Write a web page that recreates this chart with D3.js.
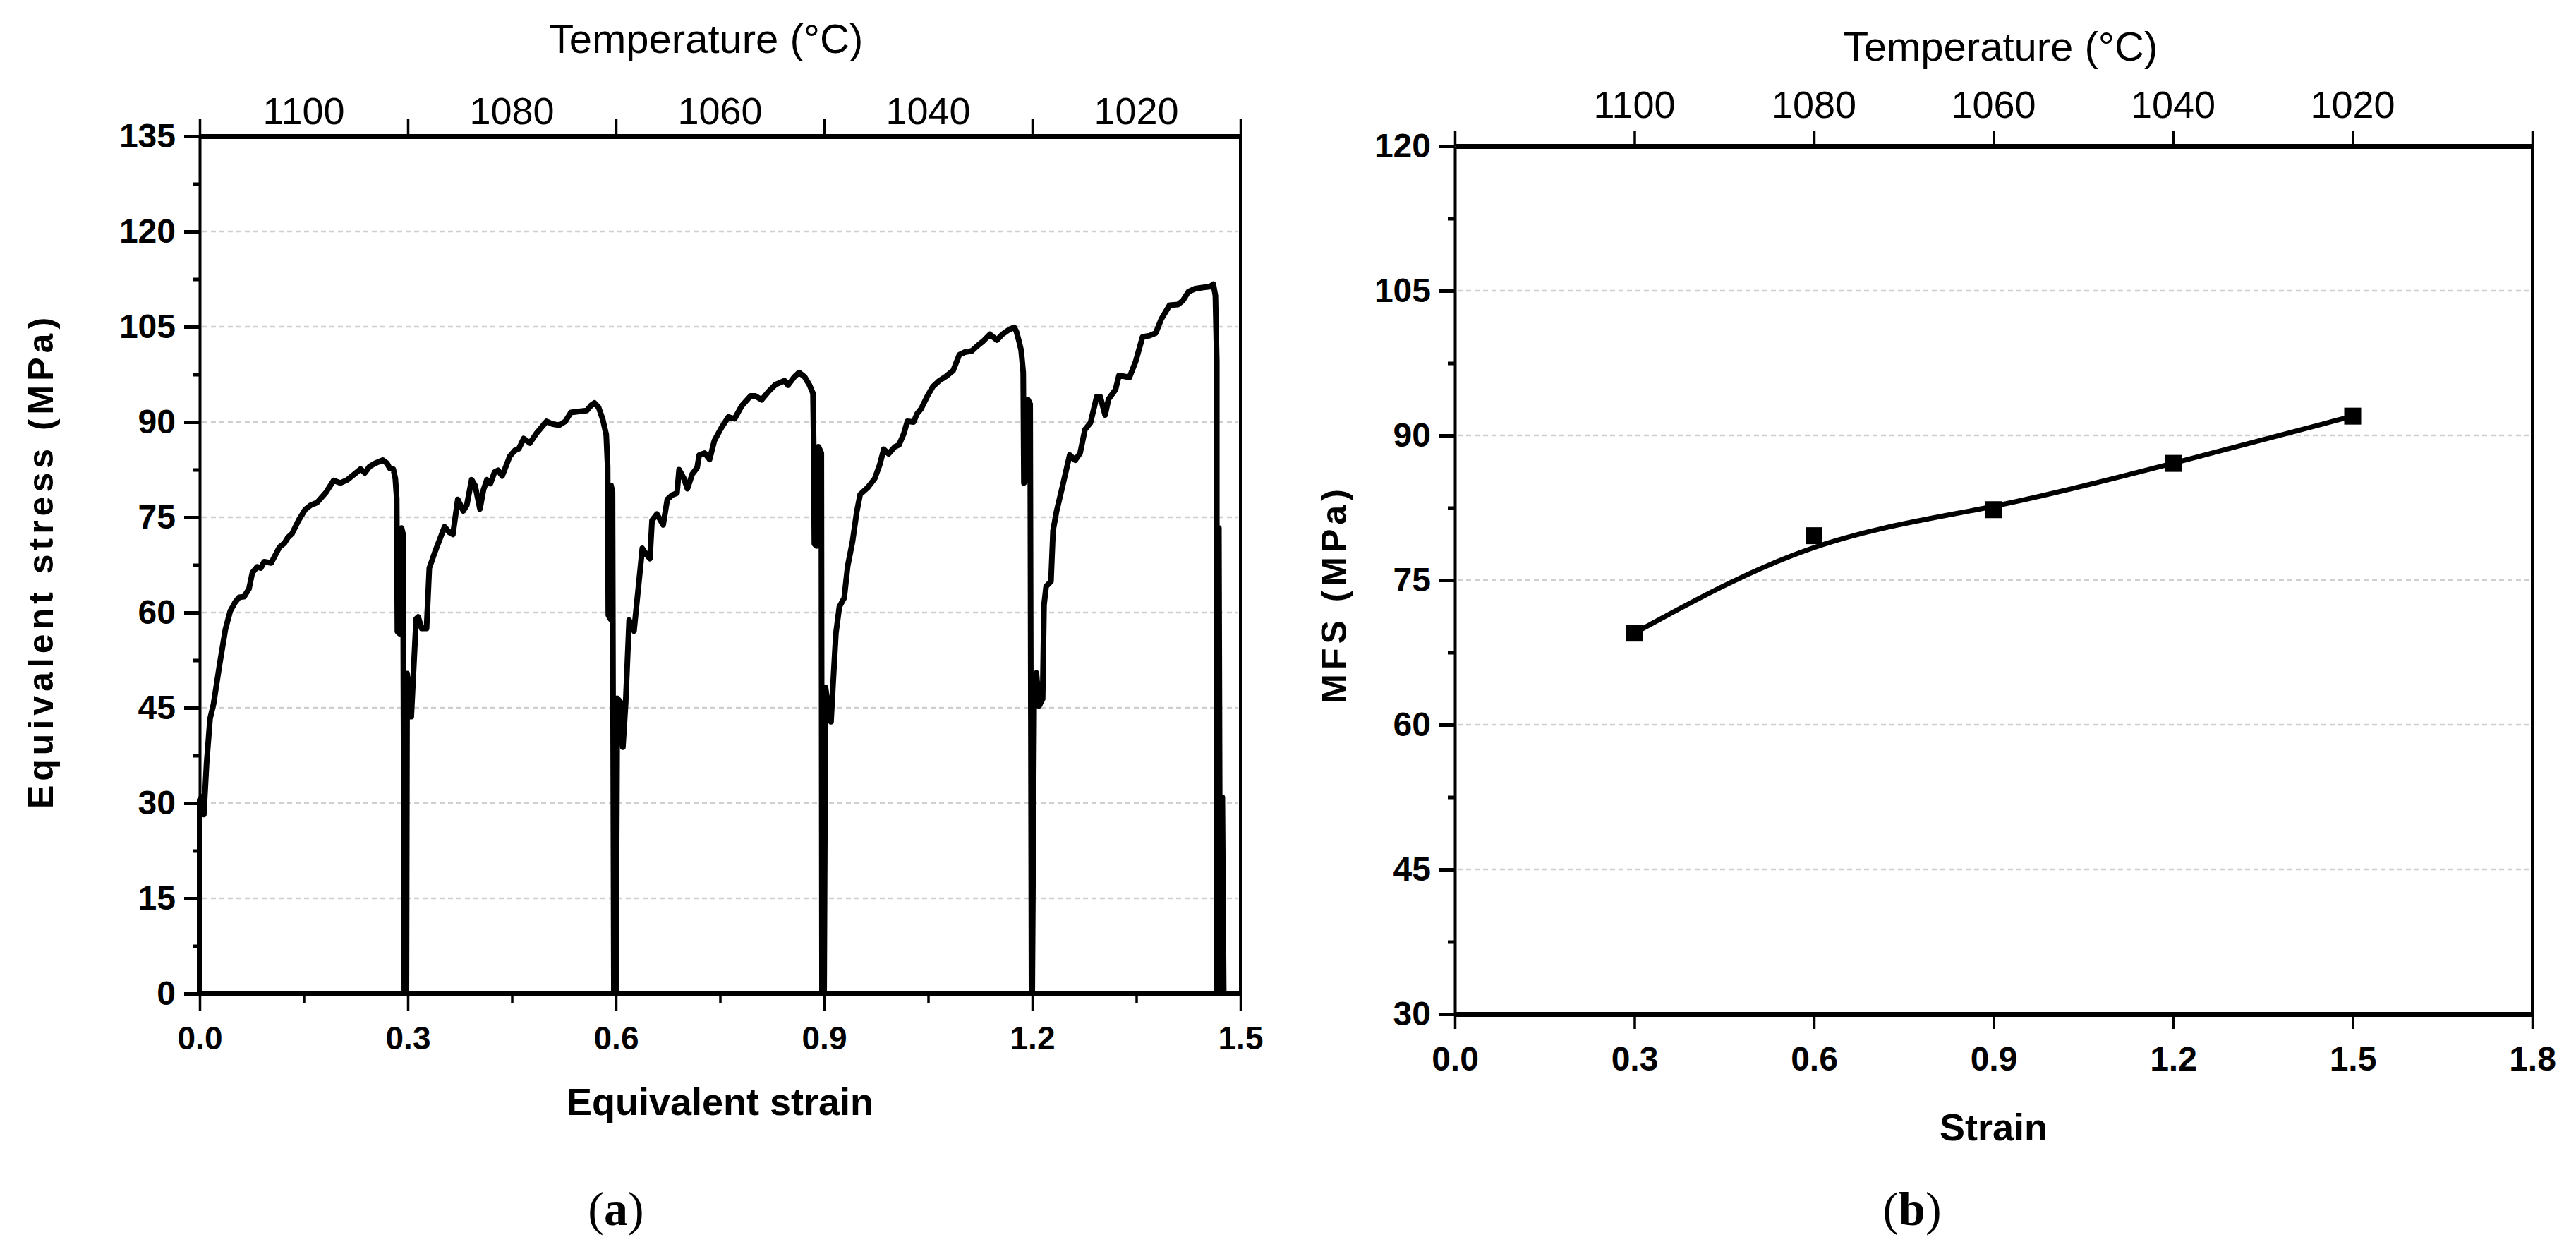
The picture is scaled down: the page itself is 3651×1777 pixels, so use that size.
<!DOCTYPE html>
<html>
<head>
<meta charset="utf-8">
<script src="https://cdn.jsdelivr.net/npm/d3@7"></script>
<style>
  body { margin: 0; background: #fff; }
  text { font-family: "Liberation Sans", Arial, sans-serif; fill: #000; }
</style>
</head>
<body>
<svg id="fig"></svg>
<script>
// ---- data ----
// (a) equivalent stress-strain curve, one array per pass: [strain, stress MPa]
var pass1 = [[0,0],[0,30.5],[0.003,31],[0.006,28.2],[0.010,36.3],[0.015,43.3],[0.020,45.6],[0.029,52],
  [0.037,57.3],[0.044,60.2],[0.051,61.6],[0.057,62.4],[0.064,62.5],[0.071,63.7],[0.076,66.3],[0.083,67.2],
  [0.088,67],[0.093,68],[0.103,67.8],[0.115,70.3],[0.122,70.9],[0.127,71.8],[0.133,72.4],[0.142,74.4],
  [0.152,76.2],[0.160,76.9],[0.169,77.3],[0.182,78.9],[0.193,80.8],[0.203,80.4],[0.213,80.9],[0.223,81.8],
  [0.232,82.6],[0.238,82],[0.245,83],[0.253,83.5],[0.264,84],[0.270,83.5],[0.274,82.7],[0.279,82.6],
  [0.282,81.1],[0.284,78],[0.285,57],[0.288,56.7],[0.291,73.3],[0.293,72.4],[0.295,0]];
var pass2 = [[0.298,0],[0.299,50.4],[0.305,43.6],[0.312,59],[0.315,59.3],[0.320,57.5],[0.327,57.5],
  [0.331,67],[0.339,69.5],[0.353,73.5],[0.360,72.6],[0.365,72.3],[0.372,77.8],[0.380,76],[0.385,76.9],
  [0.392,80.9],[0.397,80],[0.404,76.3],[0.409,79.3],[0.414,80.9],[0.419,80.3],[0.425,82.1],[0.430,82.4],
  [0.436,81.5],[0.447,84.6],[0.454,85.5],[0.460,85.8],[0.467,87.4],[0.476,86.7],[0.486,88.3],[0.500,90.1],
  [0.508,89.7],[0.518,89.5],[0.527,90.1],[0.535,91.5],[0.549,91.7],[0.558,91.8],[0.564,92.6],[0.569,93],
  [0.575,92.3],[0.581,90.4],[0.586,88],[0.588,83],[0.589,59.6],[0.592,59],[0.593,80],[0.595,79],[0.597,0]];
var pass3 = [[0.600,0],[0.602,46.5],[0.607,45.8],[0.610,38.8],[0.614,45.8],[0.619,58.8],[0.626,57.1],
  [0.638,70.1],[0.644,69.1],[0.649,68.5],[0.652,74.5],[0.659,75.5],[0.668,73.8],[0.674,77.8],[0.681,78.5],
  [0.688,78.8],[0.691,82.5],[0.698,81.1],[0.703,79.5],[0.710,81.8],[0.717,82.8],[0.720,84.8],[0.728,85.1],
  [0.735,84.1],[0.742,87.1],[0.752,89.1],[0.762,90.8],[0.771,90.5],[0.781,92.5],[0.794,94.1],[0.801,94.1],
  [0.810,93.5],[0.820,94.8],[0.830,95.9],[0.843,96.5],[0.848,95.8],[0.857,97.1],[0.864,97.8],[0.872,97.1],
  [0.879,95.8],[0.884,94.5],[0.885,86.5],[0.886,70.8],[0.889,70.5],[0.892,86.1],[0.896,85.1],[0.897,0]];
var pass4 = [[0.900,0],[0.902,48.2],[0.905,46],[0.910,42.8],[0.913,48.9],[0.917,56.7],[0.922,60.9],
  [0.929,62.3],[0.934,67.3],[0.941,71.2],[0.947,75.8],[0.952,78.6],[0.963,79.7],[0.973,81.1],[0.980,83.2],
  [0.986,85.7],[0.993,85],[1.002,86.1],[1.008,86.4],[1.015,88.2],[1.020,90.1],[1.029,90],[1.034,91.3],
  [1.040,92.1],[1.049,94.1],[1.057,95.6],[1.066,96.5],[1.076,97.2],[1.086,98.1],[1.095,100.6],[1.103,101],
  [1.113,101.2],[1.120,101.9],[1.129,102.7],[1.139,103.8],[1.149,102.9],[1.157,103.8],[1.166,104.5],
  [1.174,104.9],[1.177,104.3],[1.181,102.7],[1.184,101.3],[1.187,97.8],[1.188,80.4],[1.191,80.8],
  [1.194,93.5],[1.197,92.8],[1.199,0]];
var pass5 = [[1.200,0],[1.203,50.1],[1.206,50.5],[1.210,45.3],[1.215,46.4],[1.217,61.2],[1.220,64.1],
  [1.227,64.9],[1.230,72.9],[1.235,75.9],[1.243,79.6],[1.254,84.8],[1.262,84],[1.269,85.1],[1.276,88.8],
  [1.284,89.9],[1.293,94],[1.298,94],[1.305,91.1],[1.310,93.6],[1.320,95.1],[1.325,97.3],[1.332,97.2],
  [1.340,97],[1.349,99.5],[1.359,103.4],[1.369,103.6],[1.378,104],[1.386,106.2],[1.398,108.4],[1.410,108.5],
  [1.417,109.1],[1.425,110.5],[1.435,111],[1.447,111.2],[1.456,111.3],[1.461,111.7],[1.464,109.9],
  [1.466,99.5],[1.466,0],[1.468,0],[1.469,73.3],[1.471,0],[1.474,30.9],[1.476,0]];

var strainTicksA = [0, 0.3, 0.6, 0.9, 1.2, 1.5];
var strainMinorA = [0.15, 0.45, 0.75, 1.05, 1.35];
var stressTicksA = [0, 15, 30, 45, 60, 75, 90, 105, 120, 135];
var stressMinorA = [7.5, 22.5, 37.5, 52.5, 67.5, 82.5, 97.5, 112.5, 127.5];
var tempLabels = [1100, 1080, 1060, 1040, 1020];
var tempPosA = [0.15, 0.45, 0.75, 1.05, 1.35];

// (b) mean flow stress per pass
var mfsStrain = [0.3, 0.6, 0.9, 1.2, 1.5];
var mfsValues = [69.5, 79.6, 82.3, 87.1, 92.0];
var strainTicksB = [0, 0.3, 0.6, 0.9, 1.2, 1.5, 1.8];
var mfsTicks = [30, 45, 60, 75, 90, 105, 120];
var mfsMinor = [37.5, 52.5, 67.5, 82.5, 97.5, 112.5];
var tempPosB = [0.3, 0.6, 0.9, 1.2, 1.5];

// ---- drawing ----
var W = 3651, H = 1777;
var svg = d3.select("#fig").attr("width", W).attr("height", H);

function frame(g, x, y, o) {
  var x0 = x.range()[0], x1 = x.range()[1], yb = y.range()[0], yt = y.range()[1];

  // dotted grid
  g.selectAll("line.grid").data(o.grid).enter().append("line")
    .attr("class", "grid")
    .attr("x1", x0 + 4).attr("x2", x1 - 3)
    .attr("y1", function (d) { return y(d); }).attr("y2", function (d) { return y(d); })
    .attr("stroke", "#cfcfcf").attr("stroke-width", 2.5).attr("stroke-dasharray", "7,5");

  // right axis line (thin)
  g.append("line").attr("x1", x1).attr("x2", x1).attr("y1", yt).attr("y2", yb)
    .attr("stroke", "#000").attr("stroke-width", 4);

  var left = g.append("g").attr("transform", "translate(" + x0 + ",0)")
    .call(d3.axisLeft(y).tickValues(o.yTicks).tickSize(22).tickSizeOuter(0).tickPadding(12));
  left.select(".domain").attr("stroke-width", 4);
  left.selectAll(".tick line").attr("stroke-width", 5);
  left.selectAll(".tick text").attr("font-size", 48).attr("font-weight", "bold").attr("fill", "#000");

  if (o.yMinor) {
    var lm = g.append("g").attr("transform", "translate(" + x0 + ",0)")
      .call(d3.axisLeft(y).tickValues(o.yMinor).tickSize(10).tickFormat(""));
    lm.select(".domain").remove();
    lm.selectAll(".tick line").attr("stroke-width", 5);
  }

  // bottom axis (thick)
  var bottom = g.append("g").attr("transform", "translate(0," + yb + ")")
    .call(d3.axisBottom(x).tickValues(o.xTicks).tickSize(o.xTickLen).tickSizeOuter(0)
      .tickPadding(o.xPad).tickFormat(d3.format(".1f")));
  bottom.select(".domain").attr("stroke-width", 7);
  bottom.selectAll(".tick line").attr("stroke-width", 3.5);
  bottom.selectAll(".tick text").attr("font-size", o.xFont).attr("font-weight", "bold").attr("fill", "#000");

  if (o.xMinor) {
    var bm = g.append("g").attr("transform", "translate(0," + yb + ")")
      .call(d3.axisBottom(x).tickValues(o.xMinor).tickSize(13).tickFormat(""));
    bm.select(".domain").remove();
    bm.selectAll(".tick line").attr("stroke-width", 3.5);
  }

  // top axis: temperature
  var top = g.append("g").attr("transform", "translate(0," + yt + ")")
    .call(d3.axisTop(x).tickValues(o.xTicks).tickSize(o.topTickLen).tickSizeOuter(0).tickFormat(""));
  top.select(".domain").attr("stroke-width", 7);
  top.selectAll(".tick line").attr("stroke-width", 3.5);

  g.selectAll("text.temp").data(tempLabels).enter().append("text")
    .attr("class", "temp")
    .attr("x", function (d, i) { return x(o.tempPos[i]); })
    .attr("y", yt - o.tempGap)
    .attr("text-anchor", "middle").attr("dominant-baseline", "central")
    .attr("font-size", 54)
    .text(function (d) { return d; });

  g.append("text")
    .attr("x", (x0 + x1) / 2 + o.titleShift).attr("y", o.tempTitleY)
    .attr("text-anchor", "middle").attr("dominant-baseline", "central")
    .attr("font-size", 58)
    .text("Temperature (\u00B0C)");

  // axis titles
  g.append("text")
    .attr("x", (x0 + x1) / 2).attr("y", o.xTitleY)
    .attr("text-anchor", "middle").attr("dominant-baseline", "central")
    .attr("font-size", 54).attr("font-weight", "bold")
    .text(o.xTitle);

  g.append("text")
    .attr("transform", "translate(" + o.yTitleX + "," + o.yTitleY + ") rotate(-90)")
    .attr("text-anchor", "middle").attr("dominant-baseline", "central")
    .attr("font-size", 50).attr("font-weight", "bold").attr("letter-spacing", 6)
    .text(o.yTitle);

  // panel letter
  var lab = g.append("text")
    .attr("x", o.letterX).attr("y", 1713)
    .attr("text-anchor", "middle").attr("dominant-baseline", "central")
    .style("font-family", "'Liberation Serif', 'Times New Roman', serif")
    .attr("font-size", 68);
  lab.append("tspan").text("(");
  lab.append("tspan").attr("font-weight", "bold").text(o.letter);
  lab.append("tspan").text(")");
}

// ---- panel (a) ----
var xA = d3.scaleLinear().domain([0, 1.5]).range([283, 1758]);
var yA = d3.scaleLinear().domain([0, 135]).range([1408, 193]);
var gA = svg.append("g");

frame(gA, xA, yA, {
  grid: [15, 30, 45, 60, 75, 90, 105, 120],
  yTicks: stressTicksA, yMinor: stressMinorA,
  xTicks: strainTicksA, xMinor: strainMinorA,
  xTickLen: 24, xPad: 22, xFont: 46, topTickLen: 25,
  tempPos: tempPosA, tempGap: 36, tempTitleY: 54, titleShift: -20,
  xTitle: "Equivalent strain", xTitleY: 1561,
  yTitle: "Equivalent stress (MPa)", yTitleX: 58, yTitleY: 795,
  letter: "a", letterX: 873
});

var curve = pass1.concat(pass2, pass3, pass4, pass5);
gA.append("path")
  .datum(curve)
  .attr("fill", "none").attr("stroke", "#000").attr("stroke-width", 8)
  .attr("stroke-linejoin", "round").attr("stroke-linecap", "round")
  .attr("d", d3.line().x(function (d) { return xA(d[0]); }).y(function (d) { return yA(d[1]); }));

// ---- panel (b) ----
var xB = d3.scaleLinear().domain([0, 1.8]).range([2062, 3589]);
var yB = d3.scaleLinear().domain([30, 120]).range([1437, 207]);
var gB = svg.append("g");

frame(gB, xB, yB, {
  grid: [45, 60, 75, 90, 105],
  yTicks: mfsTicks, yMinor: mfsMinor,
  xTicks: strainTicksB, xMinor: null,
  xTickLen: 21, xPad: 25, xFont: 48, topTickLen: 21,
  tempPos: tempPosB, tempGap: 59, tempTitleY: 65, titleShift: 10,
  xTitle: "Strain", xTitleY: 1597,
  yTitle: "MFS (MPa)", yTitleX: 1891, yTitleY: 842,
  letter: "b", letterX: 2710
});

var mfs = mfsStrain.map(function (s, i) { return [s, mfsValues[i]]; });
gB.append("path")
  .datum(mfs)
  .attr("fill", "none").attr("stroke", "#000").attr("stroke-width", 7)
  .attr("d", d3.line().curve(d3.curveBasis)
    .x(function (d) { return xB(d[0]); }).y(function (d) { return yB(d[1]); }));

gB.selectAll("rect.pt").data(mfs).enter().append("rect")
  .attr("class", "pt")
  .attr("x", function (d) { return xB(d[0]) - 12; })
  .attr("y", function (d) { return yB(d[1]) - 12; })
  .attr("width", 24).attr("height", 24)
  .attr("fill", "#000");
</script>
</body>
</html>
